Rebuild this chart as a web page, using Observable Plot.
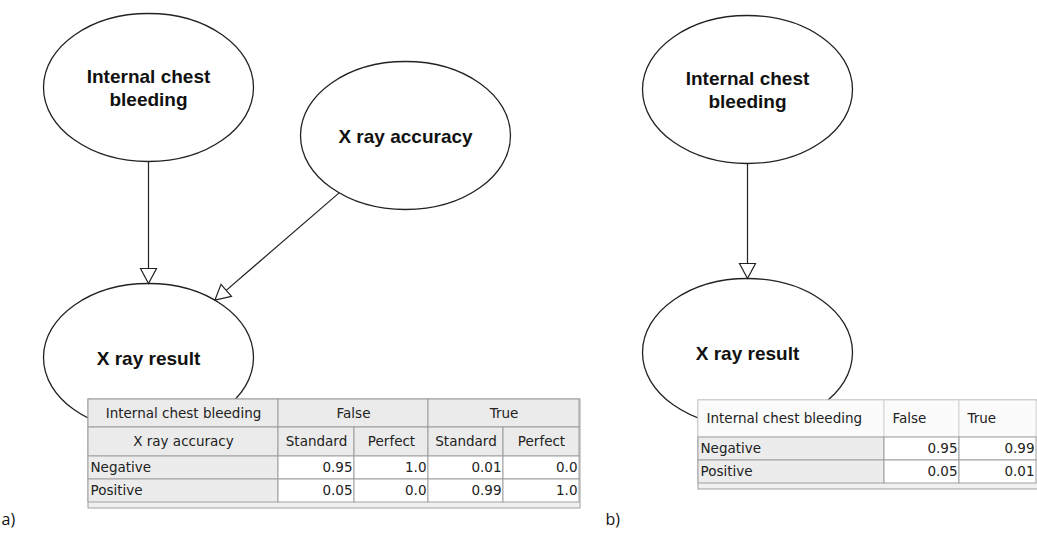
<!DOCTYPE html>
<html><head><meta charset="utf-8">
<script src="https://cdn.jsdelivr.net/npm/d3@7"></script>
<script src="https://cdn.jsdelivr.net/npm/@observablehq/plot@0.6"></script>
<style>body{margin:0;background:#fff;} #chart svg{display:block;}</style>
</head><body><div id="chart"></div>
<script>
// ---------------- data ----------------
const nodeNames = ["Internal chest bleeding", "X ray accuracy", "X ray result"];
const panelLabels = ["a)", "b)"];
const bleedingStates = ["False", "True"];
const accuracyStates = ["Standard", "Perfect"];
const resultStates = ["Negative", "Positive"];
const edgesA = [["Internal chest bleeding", "X ray result"], ["X ray accuracy", "X ray result"]];
const edgesB = [["Internal chest bleeding", "X ray result"]];
// P(X ray result | bleeding, accuracy); columns: False/Standard, False/Perfect, True/Standard, True/Perfect
const cptANegative = [0.95, 1.0, 0.01, 0.0];
const cptAPositive = [0.05, 0.0, 0.99, 1.0];
// P(X ray result | bleeding); columns: False, True
const cptBNegative = [0.95, 0.99];
const cptBPositive = [0.05, 0.01];

// ---------------- layout ----------------
const W = 1037, H = 536;
const RX = 105, RY = 74;
const nodePosA = {"Internal chest bleeding": [148, 87], "X ray accuracy": [405, 135], "X ray result": [148, 357]};
const nodePosB = {"Internal chest bleeding": [747, 89], "X ray result": [747, 352]};
const panelPos = [[1, 519], [605, 519]];
const tableA = {cols: [88, 278, 354, 428, 503, 579], rows: [399, 427, 456, 479, 502], right: 580, bottom: 508};
const tableB = {cols: [698, 884, 959, 1036], rows: [400, 437, 460, 483], right: 1045, bottom: 489};
const nodeFont = "Liberation Sans, Arial, sans-serif";
const tableFont = "DejaVu Sans, Verdana, sans-serif";

const fmt = v => Number.isInteger(v) ? v.toFixed(1) : String(v);
function wrap(name, max = 14) {
  const words = name.split(" "); const lines = []; let cur = "";
  for (const w of words) {
    if (cur && (cur + " " + w).length > max) { lines.push(cur); cur = w; }
    else cur = cur ? cur + " " + w : w;
  }
  lines.push(cur); return lines.join("\n");
}

const nodes = [];
for (const pos of [nodePosA, nodePosB])
  for (const name of nodeNames) if (pos[name]) nodes.push({name, x: pos[name][0], y: pos[name][1]});

function edgeGeom(pos, [s, t]) {
  const [x0, y0] = pos[s], [x1, y1] = pos[t];
  const dx = x1 - x0, dy = y1 - y0, L = Math.hypot(dx, dy);
  const f = 1 / Math.hypot(dx / RX, dy / RY);
  return {x1: x0 + dx * f, y1: y0 + dy * f, x2: x1 - dx * f, y2: y1 - dy * f, ux: dx / L, uy: dy / L};
}
const edges = [...edgesA.map(e => edgeGeom(nodePosA, e)), ...edgesB.map(e => edgeGeom(nodePosB, e))];

const ellipseSymbol = (rx, ry) => ({draw(ctx) {
  const k = 0.5522847;
  ctx.moveTo(rx, 0);
  ctx.bezierCurveTo(rx, k * ry, k * rx, ry, 0, ry);
  ctx.bezierCurveTo(-k * rx, ry, -rx, k * ry, -rx, 0);
  ctx.bezierCurveTo(-rx, -k * ry, -k * rx, -ry, 0, -ry);
  ctx.bezierCurveTo(k * rx, -ry, rx, -k * ry, rx, 0);
  ctx.closePath();
}});
const headSymbol = (ux, uy, len = 15, half = 8) => ({draw(ctx) {
  const bx = -ux * len, by = -uy * len, px = -uy * half, py = ux * half;
  ctx.moveTo(0, 0); ctx.lineTo(bx + px, by + py); ctx.lineTo(bx - px, by - py); ctx.closePath();
}});

// ---------------- tables ----------------
const cells = []; // kind: hdr, lbl, val, hdrB
const C = tableA.cols, R = tableA.rows;
cells.push({x1: C[0], x2: C[1], y1: R[0], y2: R[1], text: nodeNames[0], kind: "hdr", align: "middle"});
bleedingStates.forEach((b, i) => cells.push({x1: C[1 + 2 * i], x2: C[3 + 2 * i], y1: R[0], y2: R[1], text: b, kind: "hdr", align: "middle"}));
cells.push({x1: C[0], x2: C[1], y1: R[1], y2: R[2], text: nodeNames[1], kind: "hdr", align: "middle"});
bleedingStates.forEach((b, i) => accuracyStates.forEach((a, j) =>
  cells.push({x1: C[1 + 2 * i + j], x2: C[2 + 2 * i + j], y1: R[1], y2: R[2], text: a, kind: "hdr", align: "middle"})));
[cptANegative, cptAPositive].forEach((vals, r) => {
  cells.push({x1: C[0], x2: C[1], y1: R[2 + r], y2: R[3 + r], text: resultStates[r], kind: "lbl", align: "start"});
  vals.forEach((v, c) => cells.push({x1: C[1 + c], x2: C[2 + c], y1: R[2 + r], y2: R[3 + r], text: fmt(v), kind: "val", align: "end"}));
});
const CB = tableB.cols, RB = tableB.rows;
cells.push({x1: CB[0], x2: CB[1], y1: RB[0], y2: RB[1], text: nodeNames[0], kind: "hdrB", align: "start"});
bleedingStates.forEach((b, i) => cells.push({x1: CB[1 + i], x2: CB[2 + i], y1: RB[0], y2: RB[1], text: b, kind: "hdrB", align: "start"}));
[cptBNegative, cptBPositive].forEach((vals, r) => {
  cells.push({x1: CB[0], x2: CB[1], y1: RB[1 + r], y2: RB[2 + r], text: resultStates[r], kind: "lbl", align: "start"});
  vals.forEach((v, c) => cells.push({x1: CB[1 + c], x2: CB[2 + c], y1: RB[1 + r], y2: RB[2 + r], text: fmt(v), kind: "val", align: "end"}));
});
const frames = [
  {x1: tableA.cols[0], x2: tableA.right, y1: tableA.rows[0], y2: tableA.bottom},
  {x1: tableB.cols[0], x2: tableB.right, y1: tableB.rows[0], y2: tableB.bottom}
];
const pad = d => d.kind === "hdrB" ? 8 : 2;
const tx = d => d.align === "start" ? d.x1 + pad(d) : d.align === "end" ? d.x2 - 2 : (d.x1 + d.x2) / 2;
const ty = d => (d.y1 + d.y2) / 2;
const rectOf = (kind, fill, stroke) => Plot.rect(cells.filter(d => d.kind === kind), {x1: "x1", x2: "x2", y1: "y1", y2: "y2", fill, stroke, strokeWidth: 1});
const textOf = align => Plot.text(cells.filter(d => d.align === align), {x: tx, y: ty, text: "text", textAnchor: align, fontSize: 13.5, fontFamily: tableFont, fill: "#222"});

const chart = Plot.plot({
  width: W, height: H, margin: 0,
  x: {domain: [0, W], range: [0, W], axis: null},
  y: {domain: [0, H], range: [0, H], axis: null},
  style: {background: "#fff"},
  marks: [
    Plot.dot(nodes, {x: "x", y: "y", r: RY, symbol: ellipseSymbol(RX, RY), fill: "#fff", stroke: "#222", strokeWidth: 1.3}),
    Plot.link(edges, {x1: "x1", y1: "y1", x2: "x2", y2: "y2", stroke: "#222", strokeWidth: 1.2}),
    ...edges.map(e => Plot.dot([e], {x: "x2", y: "y2", r: 8, symbol: headSymbol(e.ux, e.uy), fill: "#fff", stroke: "#222", strokeWidth: 1.2})),
    Plot.text(nodes, {x: "x", y: "y", text: d => wrap(d.name), fontSize: 19, fontWeight: "bold", fontFamily: nodeFont, lineHeight: 1.21, fill: "#111"}),
    Plot.rect(frames, {x1: "x1", x2: "x2", y1: "y1", y2: "y2", fill: "#f0f0f0", stroke: "#a0a0a0"}),
    rectOf("hdr", "#ebebeb", "#9c9c9c"),
    rectOf("hdrB", "#fbfbfb", "#d4d4d4"),
    rectOf("lbl", "#ececec", "#a0a0a0"),
    rectOf("val", "#ffffff", "#a0a0a0"),
    textOf("start"), textOf("middle"), textOf("end"),
    Plot.text(panelLabels, {x: (d, i) => panelPos[i][0], y: (d, i) => panelPos[i][1], text: d => d, textAnchor: "start", fontSize: 16, fontFamily: "Open Sans, sans-serif", fill: "#111"})
  ]
});
document.getElementById("chart").appendChild(chart);
</script>
</body></html>
